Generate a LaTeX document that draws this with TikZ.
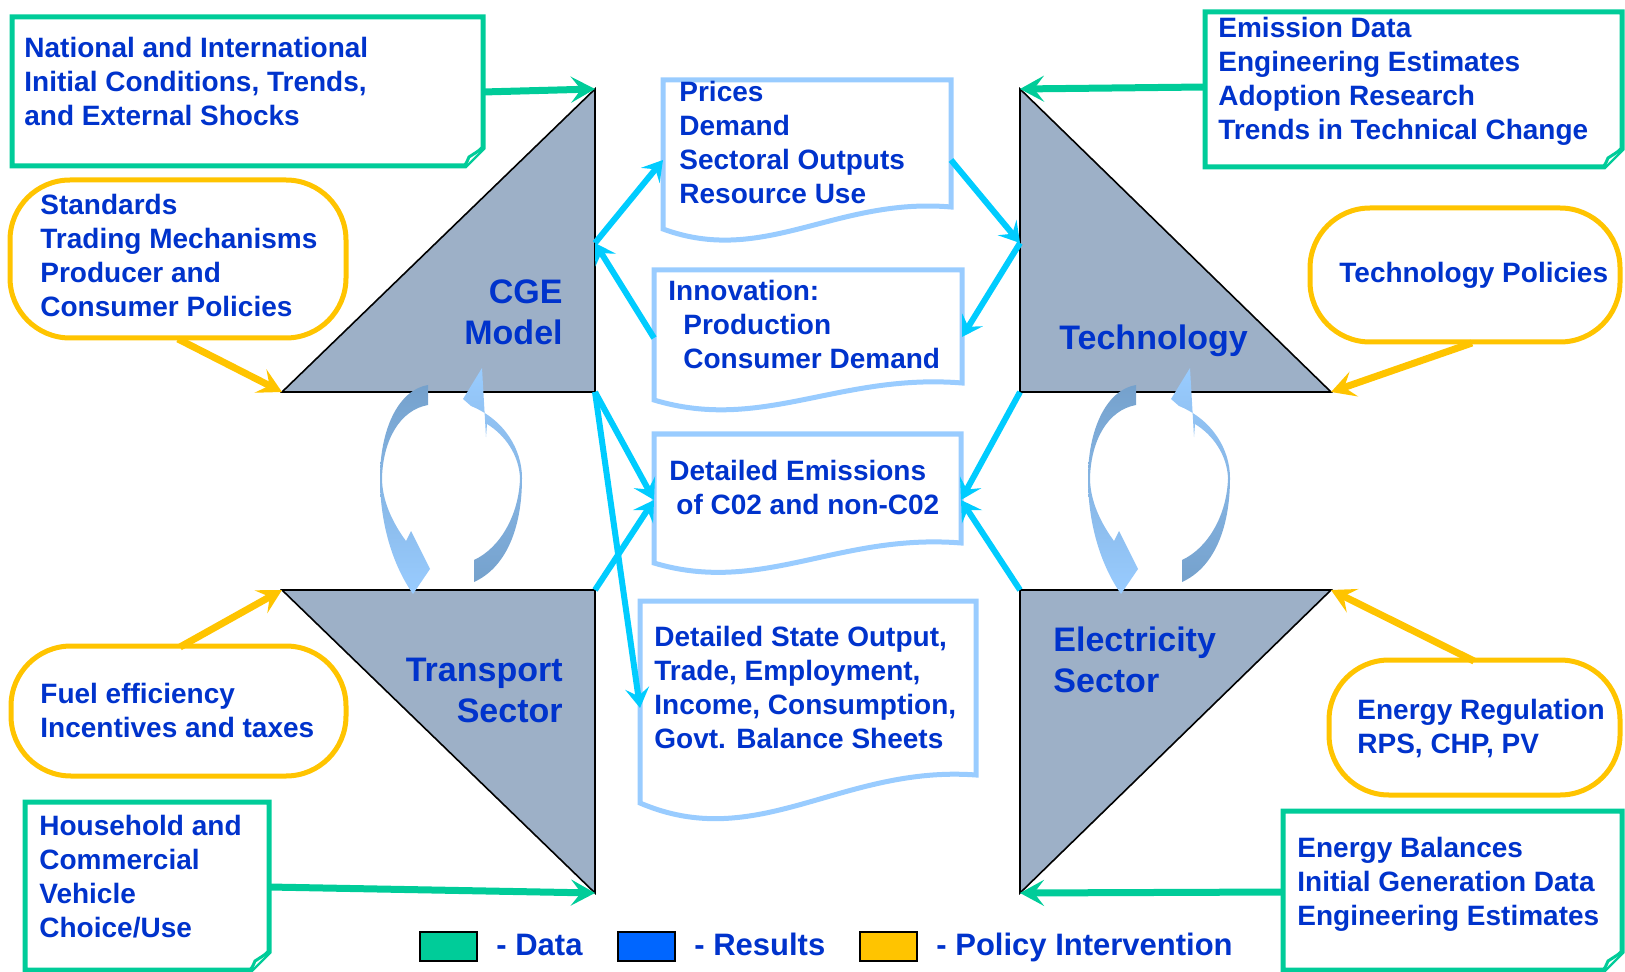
\documentclass[tikz,border=0pt]{standalone}
\usepackage{fontspec}
\setmainfont{Liberation Sans}
\usetikzlibrary{arrows.meta}
\usetikzlibrary{positioning}

\definecolor{txtblue}{RGB}{0,51,204}
\definecolor{datagreen}{RGB}{0,204,153}
\definecolor{resultblue}{RGB}{0,102,255}
\definecolor{policyyellow}{RGB}{255,196,0}
\definecolor{arrowcyan}{RGB}{0,204,255}
\definecolor{paleblue}{RGB}{153,204,255}
\definecolor{steelblue}{RGB}{117,161,204}
\definecolor{sectorgray}{RGB}{157,176,199}

% left, top, right, bottom: data sheet with folded corner
\newcommand{\notebox}[4]{
	\draw[datasheet] (#1,#2) -- (#3,#2) -- (#3,#4-18) -- (#3-18,#4) -- (#1,#4) -- cycle;
	\draw[datasheet, line width=1.5pt] (#3-18,#4) -- (#3-14,#4-9) -- (#3,#4-18);
}
% left, top, right, bottom: policy pill
\newcommand{\pillbox}[4]{
	\draw[policybox] (#1,#2) rectangle (#3,#4);
}
% left, top, right, right bottom, left bottom: result document
\newcommand{\wavebox}[5]{
	\draw[resultbox] (#1,#5) -- (#1,#2) -- (#3,#2) -- (#3,#4)
		.. controls ({#1+0.6*(#3-#1)},{#4-10}) and ({#1+0.35*(#3-#1)},{#5+0.25*(#5-#2)}) .. (#1,#5) -- cycle;
}

\begin{document}
\begin{tikzpicture}[x=0.5pt, y=-0.5pt,
	txt/.style={text=txtblue, font=\bfseries\fontsize{14}{17}\selectfont, align=left, inner sep=0pt, anchor=base west},
	sectorname/.style={text=txtblue, font=\bfseries\fontsize{17}{20.5}\selectfont, inner sep=0pt},
	legendtxt/.style={text=txtblue, font=\bfseries\fontsize{15.5}{18}\selectfont, inner sep=0pt, anchor=base west},
	sector/.style={fill=sectorgray, draw=black, line width=0.8pt},
	datasheet/.style={draw=datagreen, line width=2.5pt, fill=white},
	policybox/.style={draw=policyyellow, line width=2.5pt, fill=white, rounded corners=30pt},
	resultbox/.style={draw=paleblue, line width=2.5pt, fill=white},
	feed/.style={line width=3.5pt, -{Stealth[length=12pt, width=13pt, inset=5pt]}},
	datalink/.style={feed, draw=datagreen},
	policylink/.style={feed, draw=policyyellow},
	resultlink/.style={line width=3pt, draw=arrowcyan, -{Stealth[length=10pt, width=12pt, inset=4pt]}},
	swatch/.style={draw=black, line width=1pt}]
	\useasboundingbox (0,0) rectangle (1625,972);

	% triangle corners
	\coordinate (cge-top) at (595,89);
	\coordinate (cge-left) at (282,392);
	\coordinate (cge-right) at (595,392);
	\coordinate (cge-mid) at (595,243);
	\coordinate (tech-top) at (1020,89);
	\coordinate (tech-left) at (1020,392);
	\coordinate (tech-right) at (1331,392);
	\coordinate (tech-mid) at (1020,243);
	\coordinate (trans-left) at (282,590);
	\coordinate (trans-right) at (595,590);
	\coordinate (trans-bot) at (595,893);
	\coordinate (elec-left) at (1020,590);
	\coordinate (elec-right) at (1331,590);
	\coordinate (elec-bot) at (1020,893);

	\draw[sector] (cge-top) -- (cge-left) -- (cge-right) -- cycle;
	\draw[sector] (tech-top) -- (tech-left) -- (tech-right) -- cycle;
	\draw[sector] (trans-left) -- (trans-right) -- (trans-bot) -- cycle;
	\draw[sector] (elec-left) -- (elec-right) -- (elec-bot) -- cycle;

	% boxes
	\notebox{12}{17}{483}{166}
	\notebox{1205}{12}{1622}{167}
	\notebox{25}{802}{269}{970}
	\notebox{1283}{811}{1622}{970}
	\pillbox{10}{180}{346}{338}
	\pillbox{1310}{208}{1620}{342}
	\pillbox{11}{646}{346}{776}
	\pillbox{1329}{660}{1620}{795}
	\wavebox{663}{80}{951}{207}{229}
	\wavebox{654}{270}{962}{383}{400}
	\wavebox{654}{434}{961}{543}{563}
	\wavebox{640}{601}{976}{775}{803}

	\coordinate (natl-out) at (483,92);
	\coordinate (techdata-out) at (1205,87);
	\coordinate (house-out) at (269,887);
	\coordinate (elecdata-out) at (1283,892);
	\coordinate (stds-out) at (178,339);
	\coordinate (techpol-out) at (1472,343);
	\coordinate (fuel-out) at (180,647);
	\coordinate (enreg-out) at (1474,661);
	\coordinate (prices-in) at (663,160);
	\coordinate (prices-out) at (951,160);
	\coordinate (innov-out) at (654,338);
	\coordinate (innov-in) at (962,337);
	\coordinate (emis-w) at (654,500);
	\coordinate (emis-e) at (961,500);
	\coordinate (state-in) at (640,708);

	% texts (placed by the baseline of their last line)
	\node[txt] (natl) at (24,126) {National and International\\Initial Conditions, Trends,\\and External Shocks};
	\node[txt] (stds) at (40,317) {Standards\\Trading Mechanisms\\Producer and\\Consumer Policies};
	\node[txt] (prices) at (679,204) {Prices\\Demand\\Sectoral Outputs\\Resource Use};
	\node[txt] (innov) at (668,369) {Innovation:\\\hspace*{7.5pt}Production\\\hspace*{7.5pt}Consumer Demand};
	\node[txt] (emis) at (669,514) {Detailed Emissions\\\hspace*{3.5pt}of C02 and non-C02};
	\node[txt] (state) at (654,748) {Detailed State Output,\\Trade, Employment,\\Income, Consumption,\\Govt. Balance Sheets};
	\node[txt] (techdata) at (1218,140) {Emission Data\\Engineering Estimates\\Adoption Research\\Trends in Technical Change};
	\node[txt] (techpol) at (1339,283) {Technology Policies};
	\node[txt] (fuel) at (40,737) {Fuel efficiency\\Incentives and taxes};
	\node[txt] (house) at (39,937) {Household and\\Commercial\\Vehicle\\Choice/Use};
	\node[txt] (enreg) at (1357,753) {Energy Regulation\\RPS, CHP, PV};
	\node[txt] (elecdata) at (1297,925) {Energy Balances\\Initial Generation Data\\Engineering Estimates};

	\node[sectorname, align=right, anchor=base east] (cgelbl) at (563,345) {CGE\\Model};
	\node[sectorname, anchor=base west] (techlbl) at (1059,350) {Technology};
	\node[sectorname, align=right, anchor=base east] (translbl) at (563,722) {Transport\\Sector};
	\node[sectorname, align=left, anchor=base west] (eleclbl) at (1053,692) {Electricity\\Sector};

	% curved feedback arrows
	\foreach \dx in {0,708}{
		\begin{scope}[shift={(\dx,0)}]
			\shade[top color=steelblue, bottom color=paleblue] (428,385) .. controls (398,390) and (380,430) .. (380,478)
				.. controls (380,530) and (396,570) .. (413,594) -- (430,569) -- (411,531) -- (406,541)
				.. controls (392,522) and (382,500) .. (382,478) .. controls (383,440) and (400,410) .. (428,405) -- cycle;
			\shade[top color=paleblue, bottom color=steelblue] (482,368) -- (463,399) -- (471,406)
				.. controls (505,420) and (522,450) .. (522,478) .. controls (522,530) and (505,568) .. (474,582) -- (474,560)
				.. controls (500,548) and (519,515) .. (520,478) .. controls (519,455) and (505,435) .. (487,424) -- (486,437) -- cycle;
		\end{scope}
	}

	% connectors
	\draw[datalink] (natl-out) -- (cge-top);
	\draw[datalink] (techdata-out) -- (tech-top);
	\draw[datalink] (house-out) -- (trans-bot);
	\draw[datalink] (elecdata-out) -- (elec-bot);
	\draw[policylink] (stds-out) -- (cge-left);
	\draw[policylink] (techpol-out) -- (tech-right);
	\draw[policylink] (fuel-out) -- (trans-left);
	\draw[policylink] (enreg-out) -- (elec-right);

	\draw[resultlink] (cge-mid) -- (prices-in);
	\draw[resultlink] (innov-out) -- (cge-mid);
	\draw[resultlink] (prices-out) -- (tech-mid);
	\draw[resultlink] (tech-mid) -- (innov-in);
	\draw[resultlink] (cge-right) -- (emis-w);
	\draw[resultlink] (trans-right) -- (emis-w);
	\draw[resultlink] (tech-left) -- (emis-e);
	\draw[resultlink] (elec-left) -- (emis-e);
	\draw[resultlink] (cge-right) -- (state-in);

	% legend
	\foreach \x/\col/\lbl[count=\i] in {420/datagreen/Data, 618/resultblue/Results, 860/policyyellow/Policy Intervention}{
		\draw[swatch, fill=\col] (\x,932) rectangle ++(57,29);
		\node[legendtxt] (key\i) at (\x+76,955) {- \lbl};
	}
\end{tikzpicture}
\end{document}
